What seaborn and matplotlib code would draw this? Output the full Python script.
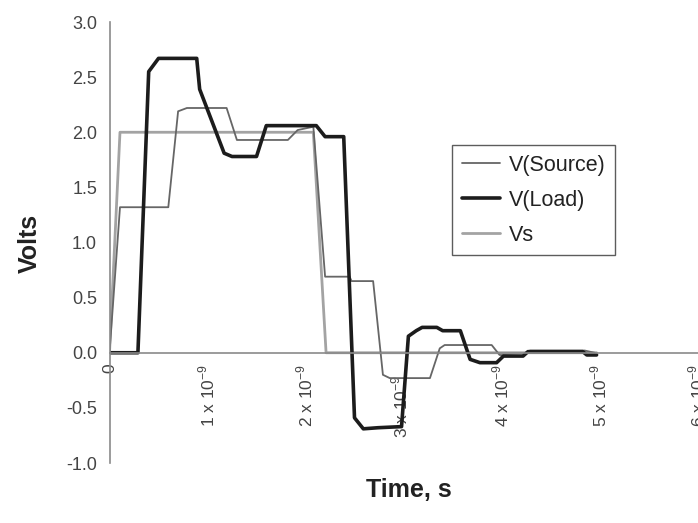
import matplotlib
matplotlib.use("Agg")
import matplotlib.pyplot as plt
import matplotlib.transforms as mtransforms
import seaborn as sns
import pandas as pd

# time in ns, voltage in V
t_source = [0, 0.107, 0.60, 0.70, 0.79, 1.195, 1.30, 1.82, 1.92, 2.08, 2.20, 2.45, 2.47,
            2.69, 2.79, 2.86, 3.27, 3.37, 3.42, 3.90, 3.98, 4.22, 4.29, 4.85, 4.95]
v_source = [0, 1.32, 1.32, 2.19, 2.22, 2.22, 1.93, 1.93, 2.02, 2.05, 0.69, 0.69, 0.65,
            0.65, -0.20, -0.23, -0.23, 0.04, 0.07, 0.07, -0.02, -0.03, 0.02, 0.02, 0.0]

t_load = [0, 0.29, 0.40, 0.50, 0.89, 0.92, 1.17, 1.25, 1.50, 1.60, 2.11, 2.20, 2.39, 2.50,
          2.59, 2.74, 2.98, 3.05, 3.13, 3.19, 3.34, 3.40, 3.58, 3.68, 3.78, 3.95, 4.02,
          4.22, 4.27, 4.83, 4.87, 4.97]
v_load = [0, 0, 2.55, 2.67, 2.67, 2.39, 1.81, 1.78, 1.78, 2.06, 2.06, 1.96, 1.96, -0.59,
          -0.69, -0.68, -0.67, 0.15, 0.20, 0.23, 0.23, 0.20, 0.20, -0.06, -0.09, -0.09, -0.03,
          -0.03, 0.01, 0.01, -0.02, -0.02]

t_vs = [0, 0.107, 2.08, 2.21, 4.97]
v_vs = [0, 2.0, 2.0, 0.0, 0.0]

x_ticks = [0, 1, 2, 3, 4, 5, 6]
x_ticklabels = ["0"] + [rf"{n} x 10$^{{\mathregular{{-9}}}}$" for n in x_ticks[1:]]
y_ticks = [-1.0, -0.5, 0.0, 0.5, 1.0, 1.5, 2.0, 2.5, 3.0]

sns.set_style("white")
plt.rcParams["font.family"] = ["Liberation Sans", "DejaVu Sans"]

fig = plt.figure(figsize=(6.98, 5.23), dpi=100)
ax = fig.add_axes([109.5 / 698, 60 / 523, 588 / 698, 441 / 523])

series = [
    ("Vs", t_vs, v_vs, "#a3a3a3", 2.0),
    ("V(Source)", t_source, v_source, "#666666", 1.3),
    ("V(Load)", t_load, v_load, "#1c1c1c", 2.6),
]
handles = {}
for name, t, v, color, lw in series:
    df = pd.DataFrame({"t": [x * 1e-9 for x in t], "v": v})
    sns.lineplot(data=df, x="t", y="v", color=color, linewidth=lw, estimator=None,
                 sort=False, ax=ax, label=name)
    handles[name] = ax.get_lines()[-1]

ax.set_xlim(0, 6e-9)
ax.set_ylim(-1.0, 3.0)

for s in ["top", "right"]:
    ax.spines[s].set_visible(False)
ax.spines["bottom"].set_position(("data", 0))
for s in ["left", "bottom"]:
    ax.spines[s].set_color("#8a8a8a")
    ax.spines[s].set_linewidth(1.2)
ax.tick_params(axis="both", direction="out", length=5, width=1.0, color="#8a8a8a",
               labelcolor="#444444")
ax.tick_params(axis="x", pad=3, labelrotation=90, labelsize=12.5)
ax.tick_params(axis="y", pad=4, labelsize=13)

ax.set_xticks([x * 1e-9 for x in x_ticks])
ax.set_xticklabels(x_ticklabels)
ax.set_yticks(y_ticks)
ax.set_yticklabels([f"{y:.1f}" for y in y_ticks])

# the "3 x 10-9" label sits a little lower in the original
lbl3 = ax.get_xticklabels()[3]
lbl3.set_transform(lbl3.get_transform() + mtransforms.ScaledTranslation(-0.03, -0.11, fig.dpi_scale_trans))

ax.set_xlabel("Time, s", fontsize=18, fontweight="bold", color="#222222", va="center")
ax.xaxis.set_label_coords((409 - 109.5) / 588, (463 - 490) / 441)
ax.set_ylabel("Volts", fontsize=18, fontweight="bold", color="#222222", va="center")
ax.yaxis.set_label_coords((30 - 109.5) / 588, (463 - 243) / 441)

order = ["V(Source)", "V(Load)", "Vs"]
leg = ax.legend([handles[n] for n in order], order, loc="upper left",
                bbox_to_anchor=(452 / 698, 1 - 145 / 523), bbox_transform=fig.transFigure,
                borderaxespad=0, fontsize=15.5, frameon=True, fancybox=False,
                edgecolor="#333333", handlelength=1.8, handletextpad=0.4,
                labelspacing=0.65, borderpad=0.45)
leg.get_frame().set_linewidth(1.0)
for txt in leg.get_texts():
    txt.set_color("#222222")

fig.savefig("out.png", dpi=100)
plt.close(fig)
